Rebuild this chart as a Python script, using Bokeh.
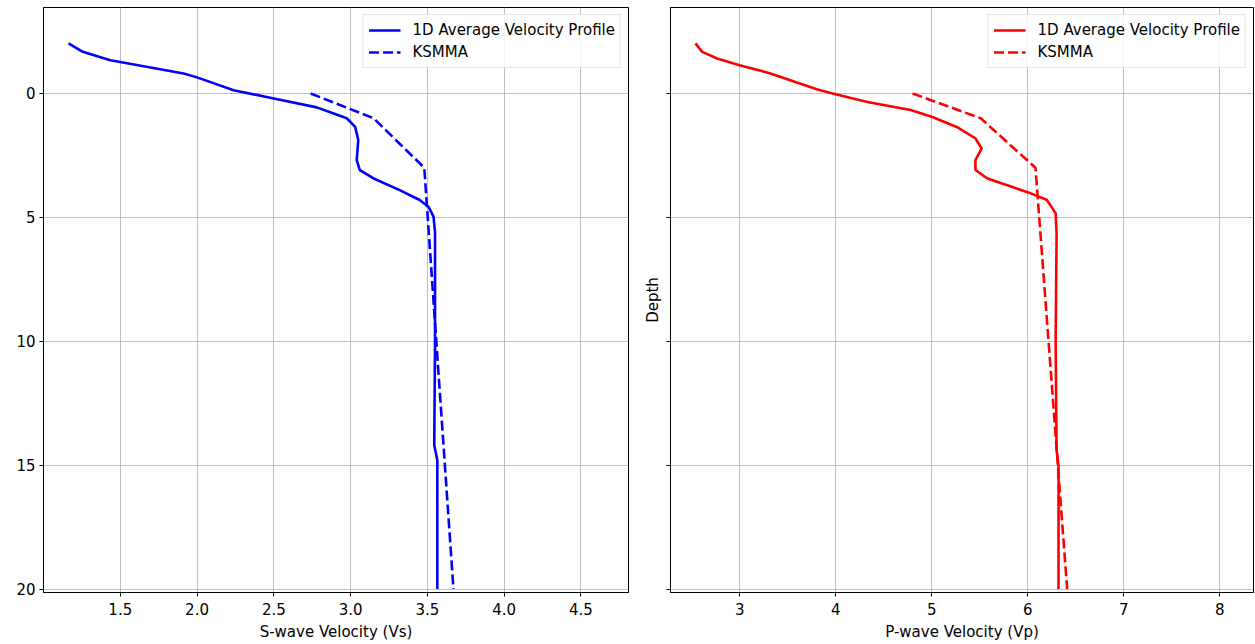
from bokeh.plotting import figure
from bokeh.layouts import row
from bokeh.models import Range1d, FixedTicker, NumeralTickFormatter, CustomJSTickFormatter
from bokeh.embed import file_html
from bokeh.resources import INLINE

# 1D average profile (S-wave)
depth_vs = [-2.02, -1.68, -1.34, -1.27, -0.81, -0.65, -0.13, 0.2, 0.56, 0.81, 1.0, 1.35,
            1.88, 2.69, 3.09, 3.43, 3.9, 4.3, 4.57, 4.97, 5.6, 10.0, 14.2, 14.8, 20.0]
vs_avg = [1.163, 1.256, 1.435, 1.5, 1.912, 2.0, 2.238, 2.5, 2.78, 2.89, 2.975, 3.03,
          3.05, 3.04, 3.06, 3.15, 3.32, 3.45, 3.507, 3.54, 3.55, 3.55, 3.545, 3.565, 3.565]

# 1D average profile (P-wave)
depth_vp = [-2.02, -1.68, -1.41, -1.14, -0.81, -0.16, 0.03, 0.34, 0.67, 0.94, 1.35, 1.81,
            2.22, 2.69, 3.09, 3.43, 4.03, 4.3, 4.84, 5.65, 10.0, 14.4, 15.0, 20.0]
vp_avg = [2.54, 2.61, 2.765, 3.0, 3.32, 3.81, 4.0, 4.33, 4.78, 5.0, 5.26, 5.455,
          5.52, 5.455, 5.455, 5.58, 6.03, 6.2, 6.29, 6.3, 6.29, 6.3, 6.32, 6.32]

# KSMMA reference model
depth_ksmma = [0, 1, 3, 20]
vs_ksmma = [2.74, 3.15, 3.48, 3.67]
vp_ksmma = [4.8, 5.51, 6.08, 6.41]

y_ticks = [0, 5, 10, 15, 20]
vs_ticks = [1.5, 2.0, 2.5, 3.0, 3.5, 4.0, 4.5]
vp_ticks = [3, 4, 5, 6, 7, 8]

FONT = "DejaVu Sans"
FS = "15px"


def style(p):
    p.outline_line_color = "black"
    p.outline_line_width = 1
    p.background_fill_color = "white"
    p.border_fill_color = "white"
    for ax in (p.xaxis[0], p.yaxis[0]):
        ax.axis_line_color = "black"
        ax.major_tick_line_color = "black"
        ax.major_tick_out = 4
        ax.major_tick_in = 0
        ax.minor_tick_line_color = None
        ax.major_label_text_font = FONT
        ax.major_label_text_font_size = FS
        ax.major_label_text_color = "black"
        ax.major_label_standoff = 4
        ax.axis_label_text_font = FONT
        ax.axis_label_text_font_size = FS
        ax.axis_label_text_font_style = "normal"
        ax.axis_label_text_color = "black"
    p.xaxis[0].major_label_standoff = 6
    p.xaxis[0].axis_label_standoff = 5
    for g in (p.xgrid[0], p.ygrid[0]):
        g.grid_line_color = "#b0b0b0"
        g.grid_line_width = 0.8
    p.yaxis[0].ticker = FixedTicker(ticks=y_ticks)


def style_legend(p):
    lg = p.legend[0]
    lg.location = "top_right"
    lg.label_text_font = FONT
    lg.label_text_font_size = FS
    lg.label_text_color = "black"
    lg.background_fill_alpha = 0.8
    lg.border_line_color = "#cccccc"
    lg.border_line_width = 1
    lg.padding = 5
    lg.spacing = 2
    lg.margin = 7
    lg.label_height = 20
    lg.glyph_height = 20
    lg.glyph_width = 32
    lg.label_standoff = 12


yr = Range1d(start=20.14, end=-3.47)

p1 = figure(width=640, height=644, x_range=Range1d(1.0, 4.81), y_range=yr,
            output_backend="svg", toolbar_location=None,
            min_border_left=43, min_border_right=12, min_border_top=7, min_border_bottom=52)
p1.line(vs_avg, depth_vs, line_color="blue", line_width=2.6,
        legend_label="1D Average Velocity Profile")
p1.line(vs_ksmma, depth_ksmma, line_color="blue", line_width=2.6, line_dash="10 4",
        legend_label="KSMMA")
style(p1)
p1.xaxis[0].ticker = FixedTicker(ticks=vs_ticks)
p1.xaxis[0].formatter = NumeralTickFormatter(format="0.0")
p1.xaxis[0].axis_label = "S-wave Velocity (Vs)"
style_legend(p1)

p2 = figure(width=615, height=644, x_range=Range1d(2.28, 8.35), y_range=yr,
            output_backend="svg", toolbar_location=None,
            min_border_left=30, min_border_right=2, min_border_top=7, min_border_bottom=52)
p2.line(vp_avg, depth_vp, line_color="red", line_width=2.6,
        legend_label="1D Average Velocity Profile")
p2.line(vp_ksmma, depth_ksmma, line_color="red", line_width=2.6, line_dash="10 4",
        legend_label="KSMMA")
style(p2)
p2.xaxis[0].ticker = FixedTicker(ticks=vp_ticks)
p2.xaxis[0].axis_label = "P-wave Velocity (Vp)"
p2.yaxis[0].formatter = CustomJSTickFormatter(code="return '';")
p2.yaxis[0].major_label_standoff = 0
p2.yaxis[0].axis_label = "Depth"
p2.yaxis[0].axis_label_standoff = 5
style_legend(p2)

layout = row(p1, p2)
open("out.html", "w").write(file_html(layout, INLINE))
